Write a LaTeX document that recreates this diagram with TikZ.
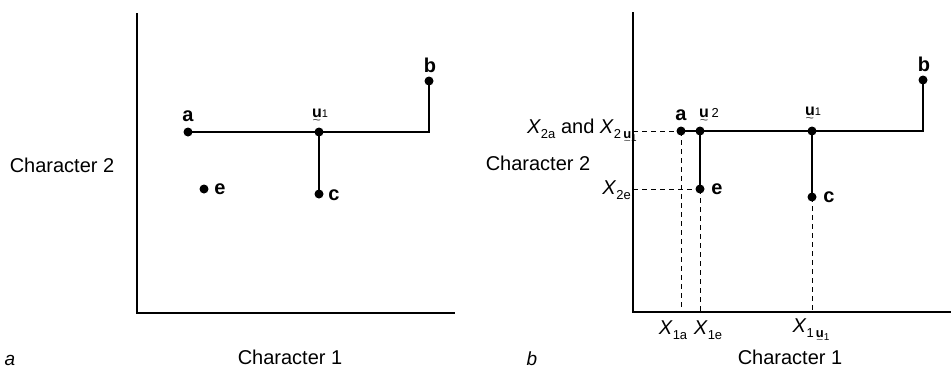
\documentclass[tikz,border=0pt]{standalone}
\usepackage{fontspec}
\setmainfont{Liberation Sans}
\newcommand{\htu}{{\ooalign{\textbf{u}\cr\hidewidth\raisebox{-0.40em}{\scalebox{0.9}[0.6]{\textasciitilde}}\hidewidth\cr}}}
\newcommand{\subfont}{\fontsize{13}{13}\selectfont}
\newcommand{\subsubfont}{\fontsize{10}{10}\selectfont}
\newcommand{\Xsub}[1]{\textit{X}\raisebox{-0.25em}{\subfont #1}}
\newcommand{\Xhtu}[1]{\textit{X}\raisebox{-0.25em}{\subfont #1\,\htu\raisebox{-0.22em}{\subsubfont 1}}}
\begin{document}
\begin{tikzpicture}[x=1pt,y=-1pt,
  dot/.style={circle,fill=black,inner sep=0pt,minimum size=9pt},
  ptlabel/.style={font=\fontsize{20}{20}\selectfont\bfseries,inner sep=0pt},
  htulabel/.style={font=\fontsize{16}{16}\selectfont,inner sep=0pt},
  axislabel/.style={font=\fontsize{20}{20}\selectfont,inner sep=0pt},
  panel/.style={font=\fontsize{19}{19}\selectfont\itshape,inner sep=0pt},
  xlabel/.style={font=\fontsize{20}{20}\selectfont,inner sep=0pt},
  axisline/.style={line width=1.6pt},
  branch/.style={line width=2pt},
  guide/.style={line width=1pt,dash pattern=on 5pt off 4pt}]
\useasboundingbox (0,0) rectangle (951,368);
% ---------------- panel a ----------------
\coordinate (aytop) at (137,13);
\coordinate (aorig) at (137,313);
\coordinate (axend) at (455,313);
\draw[axisline] (aytop) -- (aorig) -- (axend);
\node[dot] (aA) at (188,132) {};
\node[dot] (aU) at (319,132) {};
\node[dot] (aB) at (429,81) {};
\node[dot] (aC) at (319,194) {};
\node[dot] (aE) at (204,189) {};
\coordinate (aK) at (429,132);
\draw[branch] (aA.center) -- (aK) -- (aB.center);
\draw[branch] (aU.center) -- (aC.center);
\node[ptlabel] (laA) at (188,116) {a};
\node[ptlabel] (laB) at (430,65) {b};
\node[ptlabel] (laC) at (334,195) {c};
\node[ptlabel] (laE) at (220,189) {e};
\node[htulabel] (laU) at (320,116) {\htu\raisebox{-0.05em}{\fontsize{11}{11}\selectfont 1}};
\node[axislabel] (ach2) at (62,165) {Character 2};
\node[axislabel] (ach1) at (290,357) {Character 1};
\node[panel,anchor=south] (pa) at (10,366) {a};
% ---------------- panel b ----------------
\coordinate (bytop) at (633,12);
\coordinate (borig) at (633,312);
\coordinate (bxend) at (951,312);
\draw[axisline] (bytop) -- (borig) -- (bxend);
\node[dot] (bA) at (681,131) {};
\node[dot] (bU2) at (700,131) {};
\node[dot] (bU1) at (812,131) {};
\node[dot] (bB) at (923,80) {};
\node[dot] (bE) at (700,189) {};
\node[dot] (bC) at (812,197) {};
\coordinate (bK) at (923,131);
\draw[branch] (bA.center) -- (bK) -- (bB.center);
\draw[branch] (bU2.center) -- (bE.center);
\draw[branch] (bU1.center) -- (bC.center);
\coordinate (byA) at (633,131);
\coordinate (byE) at (633,189);
\draw[guide] (byA) -- (bA.center);
\draw[guide] (byE) -- (bE.center);
\coordinate (bxA) at (681,312);
\coordinate (bxE) at (700,312);
\coordinate (bxC) at (812,312);
\draw[guide] (bA.center) -- (bxA);
\draw[guide] (bE.center) -- (bxE);
\draw[guide] (bC.center) -- (bxC);
\node[ptlabel] (lbA) at (681,115) {a};
\node[htulabel] (lbU2) at (709,116) {\htu\,\raisebox{-0.05em}{\fontsize{13}{13}\selectfont 2}};
\node[htulabel] (lbU1) at (813,114) {\htu\raisebox{-0.05em}{\fontsize{11}{11}\selectfont 1}};
\node[ptlabel] (lbB) at (924,64) {b};
\node[ptlabel] (lbE) at (717,189) {e};
\node[ptlabel] (lbC) at (829,197) {c};
\node[xlabel,anchor=east] (lbX2a) at (637,131) {\Xsub{2a} and \Xhtu{2}};
\node[axislabel] (bch2) at (538,163) {Character 2};
\node[xlabel,anchor=east] (lbX2e) at (631,190) {\Xsub{2e}};
\node[xlabel] (lbX1a) at (673,330) {\Xsub{1a}};
\node[xlabel] (lbX1e) at (708,330) {\Xsub{1e}};
\node[xlabel] (lbX1u) at (811,331) {\Xhtu{1}};
\node[axislabel] (bch1) at (790,357) {Character 1};
\node[panel,anchor=south] (pb) at (532,366) {b};
\end{tikzpicture}
\end{document}
